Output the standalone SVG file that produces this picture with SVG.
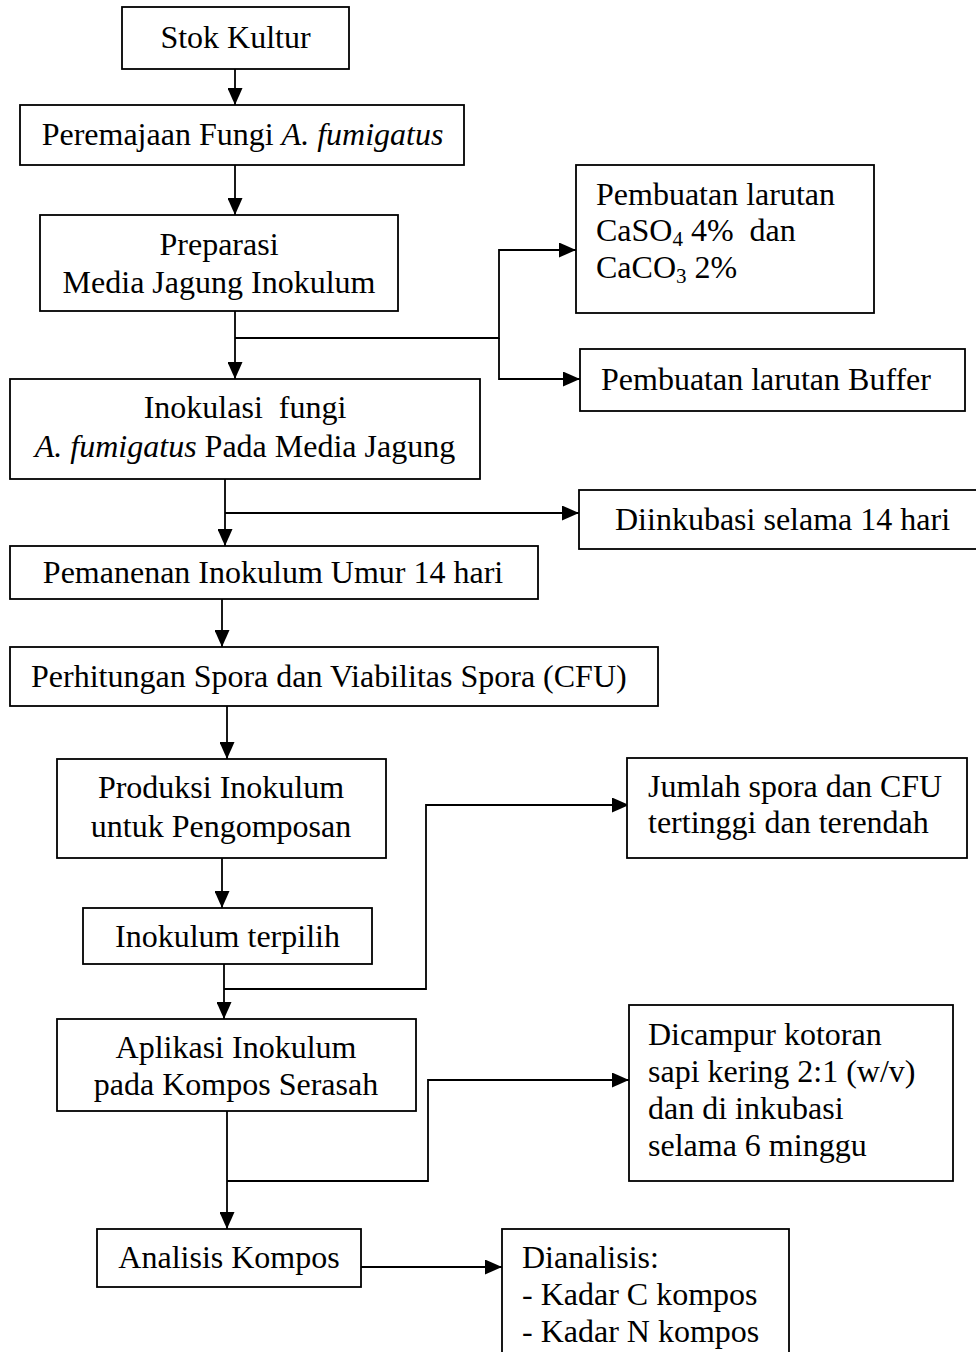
<svg xmlns="http://www.w3.org/2000/svg" width="976" height="1352" viewBox="0 0 976 1352">
<style>
.box{fill:#fff;stroke:#000;stroke-width:1.8}
.t{font-family:"Liberation Serif","Times New Roman",serif;font-size:32px;fill:#000}
.c{text-anchor:middle}
.sub{font-size:21px}
.ln{fill:none;stroke:#000;stroke-width:1.8}
</style>
<defs>
<marker id="ah" markerUnits="userSpaceOnUse" markerWidth="17" markerHeight="15" refX="17" refY="7.5" orient="auto">
<path d="M0,0 L17,7.5 L0,15 z" fill="#000"/>
</marker>
</defs>
<rect width="976" height="1352" fill="#fff"/>
<g id="connectors">
<path class="ln" d="M235,69 V105" marker-end="url(#ah)"/>
<path class="ln" d="M235,165 V215" marker-end="url(#ah)"/>
<path class="ln" d="M235,311 V379" marker-end="url(#ah)"/>
<path class="ln" d="M235,338 H499 V250 H576" marker-end="url(#ah)"/>
<path class="ln" d="M499,338 V379 H580" marker-end="url(#ah)"/>
<path class="ln" d="M225,479 V546" marker-end="url(#ah)"/>
<path class="ln" d="M225,513 H579" marker-end="url(#ah)"/>
<path class="ln" d="M222,599 V647" marker-end="url(#ah)"/>
<path class="ln" d="M227,706 V759" marker-end="url(#ah)"/>
<path class="ln" d="M222,858 V908" marker-end="url(#ah)"/>
<path class="ln" d="M224,964 V1019" marker-end="url(#ah)"/>
<path class="ln" d="M224,989 H426 V805 H629" marker-end="url(#ah)"/>
<path class="ln" d="M227,1111 V1229" marker-end="url(#ah)"/>
<path class="ln" d="M227,1181 H428 V1080 H629" marker-end="url(#ah)"/>
<path class="ln" d="M361,1267 H502" marker-end="url(#ah)"/>
</g>
<g id="stok">
<rect class="box" x="122" y="7" width="227" height="62"/>
<text class="t c" x="235.5" y="48">Stok Kultur</text>
</g>
<g id="peremajaan">
<rect class="box" x="20" y="105" width="444" height="60"/>
<text class="t c" x="242.5" y="145">Peremajaan Fungi <tspan font-style="italic">A. fumigatus</tspan></text>
</g>
<g id="preparasi">
<rect class="box" x="40" y="215" width="358" height="96"/>
<text class="t c" x="219" y="255">Preparasi</text>
<text class="t c" x="219" y="293">Media Jagung Inokulum</text>
</g>
<g id="caso4">
<rect class="box" x="576" y="165" width="298" height="148"/>
<text class="t" x="596" y="205">Pembuatan larutan</text>
<text class="t" x="596" y="241" xml:space="preserve">CaSO<tspan class="sub" dy="5">4</tspan><tspan dy="-5"> 4%  dan</tspan></text>
<text class="t" x="596" y="278">CaCO<tspan class="sub" dy="5">3</tspan><tspan dy="-5"> 2%</tspan></text>
</g>
<g id="buffer">
<rect class="box" x="580" y="349" width="385" height="62"/>
<text class="t" x="601" y="390">Pembuatan larutan Buffer</text>
</g>
<g id="inokulasi">
<rect class="box" x="10" y="379" width="470" height="100"/>
<text class="t c" x="245" y="418" xml:space="preserve">Inokulasi  fungi</text>
<text class="t c" x="245" y="457"><tspan font-style="italic">A. fumigatus</tspan> Pada Media Jagung</text>
</g>
<g id="diinkubasi">
<rect class="box" x="579" y="490" width="402" height="59"/>
<text class="t" x="615" y="530">Diinkubasi selama 14 hari</text>
</g>
<g id="pemanenan">
<rect class="box" x="10" y="546" width="528" height="53"/>
<text class="t c" x="273" y="583">Pemanenan Inokulum Umur 14 hari</text>
</g>
<g id="perhitungan">
<rect class="box" x="10" y="647" width="648" height="59"/>
<text class="t" x="31" y="687">Perhitungan Spora dan Viabilitas Spora (CFU)</text>
</g>
<g id="produksi">
<rect class="box" x="57" y="759" width="329" height="99"/>
<text class="t c" x="221" y="798">Produksi Inokulum</text>
<text class="t c" x="221" y="837">untuk Pengomposan</text>
</g>
<g id="jumlah">
<rect class="box" x="627" y="758" width="340" height="100"/>
<text class="t" x="648" y="797">Jumlah spora dan CFU</text>
<text class="t" x="648" y="833">tertinggi dan terendah</text>
</g>
<g id="terpilih">
<rect class="box" x="83" y="908" width="289" height="56"/>
<text class="t c" x="227.5" y="947">Inokulum terpilih</text>
</g>
<g id="aplikasi">
<rect class="box" x="57" y="1019" width="359" height="92"/>
<text class="t c" x="236" y="1058">Aplikasi Inokulum</text>
<text class="t c" x="236" y="1095">pada Kompos Serasah</text>
</g>
<g id="dicampur">
<rect class="box" x="629" y="1005" width="324" height="176"/>
<text class="t" x="648" y="1045">Dicampur kotoran</text>
<text class="t" x="648" y="1082">sapi kering 2:1 (w/v)</text>
<text class="t" x="648" y="1119">dan di inkubasi</text>
<text class="t" x="648" y="1156">selama 6 minggu</text>
</g>
<g id="analisis">
<rect class="box" x="97" y="1229" width="264" height="58"/>
<text class="t c" x="229" y="1268">Analisis Kompos</text>
</g>
<g id="dianalisis">
<rect class="box" x="502" y="1229" width="287" height="140"/>
<text class="t" x="522" y="1268">Dianalisis:</text>
<text class="t" x="522" y="1305">- Kadar C kompos</text>
<text class="t" x="522" y="1342">- Kadar N kompos</text>
</g>
</svg>
